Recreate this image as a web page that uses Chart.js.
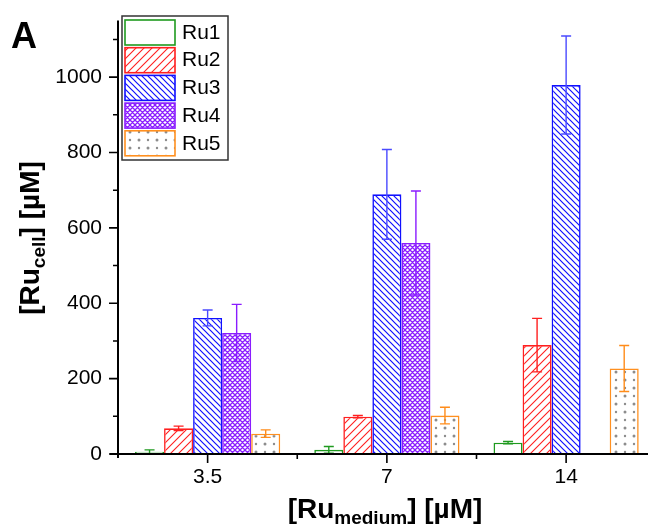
<!DOCTYPE html>
<html><head><meta charset="utf-8">
<script src="https://cdn.jsdelivr.net/npm/chart.js@4.4.0/dist/chart.umd.min.js"></script>
<style>html,body{margin:0;padding:0;background:#fff;overflow:hidden}canvas{display:block}</style>
</head><body>
<canvas id="c" width="648" height="524" style="width:648px;height:524px"></canvas>
<script>
// ---- data ----
const categories = ['3.5', '7', '14'];
const seriesNames = ['Ru1', 'Ru2', 'Ru3', 'Ru4', 'Ru5'];
const ru1 = [6, 11, 30];
const ru1Err = [5, 9, 3];
const ru2 = [68, 99, 289];
const ru2Err = [6, 3, 71];
const ru3 = [361, 689, 979];
const ru3Err = [21, 119, 130];
const ru4 = [321, 560, null];
const ru4Err = [76, 138, null];
const ru5 = [54, 102, 227];
const ru5Err = [10, 22, 61];
const yTickLabels = [0, 200, 400, 600, 800, 1000];
const yMinorTicks = [100, 300, 500, 700, 900, 1100];

const FONT = "'Liberation Sans', Arial, sans-serif";
const canvas = document.getElementById('c');
const ctx = canvas.getContext('2d');

function makePattern(kind, color) {
  const c = document.createElement('canvas');
  const g = c.getContext('2d');
  if (kind === 'none') return '#ffffff';
  if (kind === 'fwd') {
    const s = 8; c.width = s; c.height = s;
    g.fillStyle = '#fff'; g.fillRect(0, 0, s, s);
    g.strokeStyle = color; g.lineWidth = 1.1;
    g.beginPath();
    g.moveTo(0, s); g.lineTo(s, 0);
    g.moveTo(-1, 1); g.lineTo(1, -1);
    g.moveTo(s - 1, s + 1); g.lineTo(s + 1, s - 1);
    g.stroke();
  } else if (kind === 'back') {
    const s = 6; c.width = s; c.height = s;
    g.fillStyle = '#fff'; g.fillRect(0, 0, s, s);
    g.strokeStyle = color; g.lineWidth = 1.2;
    g.beginPath();
    g.moveTo(0, 0); g.lineTo(s, s);
    g.moveTo(-1, s - 1); g.lineTo(1, s + 1);
    g.moveTo(s - 1, -1); g.lineTo(s + 1, 1);
    g.stroke();
  } else if (kind === 'cross') {
    const s = 5; c.width = s; c.height = s;
    g.fillStyle = '#fff'; g.fillRect(0, 0, s, s);
    g.strokeStyle = color; g.lineWidth = 1.3;
    g.beginPath();
    g.moveTo(0, 0); g.lineTo(s, s);
    g.moveTo(0, s); g.lineTo(s, 0);
    g.moveTo(-1, s - 1); g.lineTo(1, s + 1);
    g.moveTo(s - 1, -1); g.lineTo(s + 1, 1);
    g.moveTo(-1, 1); g.lineTo(1, -1);
    g.moveTo(s - 1, s + 1); g.lineTo(s + 1, s - 1);
    g.stroke();
  } else if (kind === 'dots') {
    c.width = 18; c.height = 16;
    g.fillStyle = '#fff'; g.fillRect(0, 0, 18, 16);
    g.fillStyle = '#8c8c8c';
    [[4, 4], [13, 4], [4, 12], [13, 12]].forEach(([x, y], k) => {
      g.beginPath(); g.arc(x, y, k % 3 === 0 ? 1.5 : 1.2, 0, Math.PI * 2); g.fill();
    });
  }
  return ctx.createPattern(c, 'repeat');
}

const seriesValues = [ru1, ru2, ru3, ru4, ru5];
const seriesErrors = [ru1Err, ru2Err, ru3Err, ru4Err, ru5Err];
const seriesColors = ['#1f9a1f', '#ff1f1f', '#1010ff', '#8a1cff', '#ff9020'];
const seriesErrColors = ['#1f9a1f', '#ff1f1f', '#4a4aff', '#8a1cff', '#ff8c1a'];
const seriesPatterns = ['none', 'fwd', 'back', 'cross', 'dots'];

const datasets = seriesNames.map((name, i) => ({
  label: name,
  data: seriesValues[i].map((v, j) => ({ x: j + 1, y: v })),
  backgroundColor: makePattern(seriesPatterns[i], seriesColors[i]),
  borderColor: seriesColors[i],
  borderWidth: 1.6,
  categoryPercentage: 0.81,
  barPercentage: 1.0,
  errors: seriesErrors[i],
  errColor: seriesErrColors[i]
}));

const decor = {
  id: 'decor',
  afterDatasetsDraw(chart) {
    const c = chart.ctx, ys = chart.scales.y;
    chart.data.datasets.forEach((ds, i) => {
      const meta = chart.getDatasetMeta(i);
      meta.data.forEach((bar, j) => {
        const v = ds.data[j].y, e = ds.errors[j];
        if (v === null || e === null) return;
        const x = bar.x;
        const t = ys.getPixelForValue(v + e), b = ys.getPixelForValue(v - e);
        c.save();
        c.strokeStyle = ds.errColor; c.lineWidth = 1.4;
        c.beginPath();
        c.moveTo(x, t); c.lineTo(x, b);
        c.moveTo(x - 5, t); c.lineTo(x + 5, t);
        c.moveTo(x - 5, b); c.lineTo(x + 5, b);
        c.stroke();
        c.restore();
      });
    });
  },
  afterDraw(chart) {
    const c = chart.ctx, xs = chart.scales.x, ys = chart.scales.y, a = chart.chartArea;
    c.save();
    c.strokeStyle = '#000';
    // axes lines
    c.lineWidth = 2;
    c.beginPath();
    c.moveTo(110, a.bottom); c.lineTo(a.right, a.bottom);
    c.moveTo(a.left, a.top); c.lineTo(a.left, a.bottom + 4);
    c.stroke();
    // ticks
    c.lineWidth = 1.6;
    c.beginPath();
    yTickLabels.forEach(v => { const y = ys.getPixelForValue(v); c.moveTo(a.left - 9, y); c.lineTo(a.left, y); });
    yMinorTicks.forEach(v => { const y = ys.getPixelForValue(v); c.moveTo(a.left - 5, y); c.lineTo(a.left, y); });
    categories.forEach((_, i) => { const x = xs.getPixelForValue(i + 1); c.moveTo(x, a.bottom); c.lineTo(x, a.bottom + 9); });
    categories.forEach((_, i) => { const x = xs.getPixelForValue(i + 1.5); if (x <= a.right) { c.moveTo(x, a.bottom); c.lineTo(x, a.bottom + 5); } });
    c.stroke();

    // legend
    const lx = 122, ly = 16, lw = 106, lh = 144;
    c.fillStyle = '#fff';
    c.fillRect(lx, ly, lw, lh);
    c.lineWidth = 1.5; c.strokeStyle = '#333';
    c.strokeRect(lx, ly, lw, lh);
    chart.data.datasets.forEach((ds, i) => {
      const sy = 20 + i * 27.7;
      c.fillStyle = ds.backgroundColor;
      c.fillRect(125, sy, 50, 25);
      c.strokeStyle = ds.borderColor; c.lineWidth = 1.6;
      c.strokeRect(125, sy, 50, 25);
      c.fillStyle = '#000';
      c.font = '21px ' + FONT;
      c.textBaseline = 'middle'; c.textAlign = 'left';
      c.fillText(ds.label, 182, sy + 13);
    });

    // panel letter
    c.fillStyle = '#000';
    c.textBaseline = 'alphabetic'; c.textAlign = 'left';
    c.font = 'bold 36px ' + FONT;
    c.fillText('A', 11, 48);

    // titles with subscript
    const mainF = 'bold 28px ' + FONT, subF = 'bold 19px ' + FONT;
    function drawSubTitle(pre, sub, post, cx, baseline) {
      c.font = mainF; const w1 = c.measureText(pre).width, w3 = c.measureText(post).width;
      c.font = subF; const w2 = c.measureText(sub).width;
      let x = cx - (w1 + w2 + w3) / 2;
      c.font = mainF; c.fillText(pre, x, baseline); x += w1;
      c.font = subF; c.fillText(sub, x, baseline + 6); x += w2;
      c.font = mainF; c.fillText(post, x, baseline);
    }
    drawSubTitle('[Ru', 'medium', '] [\u00B5M]', 385, 518);
    c.save();
    c.translate(39, 238);
    c.rotate(-Math.PI / 2);
    drawSubTitle('[Ru', 'cell', '] [\u00B5M]', 0, 0);
    c.restore();
    c.restore();
  }
};

new Chart(ctx, {
  type: 'bar',
  data: { datasets },
  options: {
    responsive: false,
    animation: false,
    devicePixelRatio: 1,
    layout: { padding: { left: 0, top: 19, right: 0, bottom: 0 } },
    plugins: { legend: { display: false }, tooltip: { enabled: false } },
    scales: {
      x: {
        type: 'linear',
        offset: false,
        min: 0.5,
        max: 0.5 + 530 / 179.25,
        afterBuildTicks: s => { s.ticks = categories.map((_, i) => ({ value: i + 1 })); },
        ticks: {
          callback: v => categories[Math.round(v) - 1] ?? '',
          font: { size: 21, family: FONT }, color: '#000', padding: 3,
          maxRotation: 0, autoSkip: false
        },
        grid: { display: true, offset: false, drawOnChartArea: false, color: 'rgba(0,0,0,0)', tickLength: 8 },
        border: { display: false },
        afterFit: s => { s.height = 70; }
      },
      y: {
        min: 0, max: 1150,
        ticks: {
          stepSize: 200, includeBounds: false,
          callback: v => yTickLabels.includes(v) ? String(v) : '',
          font: { size: 21, family: FONT }, color: '#000', padding: 8
        },
        grid: { display: true, drawOnChartArea: false, color: 'rgba(0,0,0,0)', tickLength: 8 },
        border: { display: false },
        afterFit: s => { s.width = 118; }
      }
    }
  },
  plugins: [decor]
});
</script>
</body></html>
